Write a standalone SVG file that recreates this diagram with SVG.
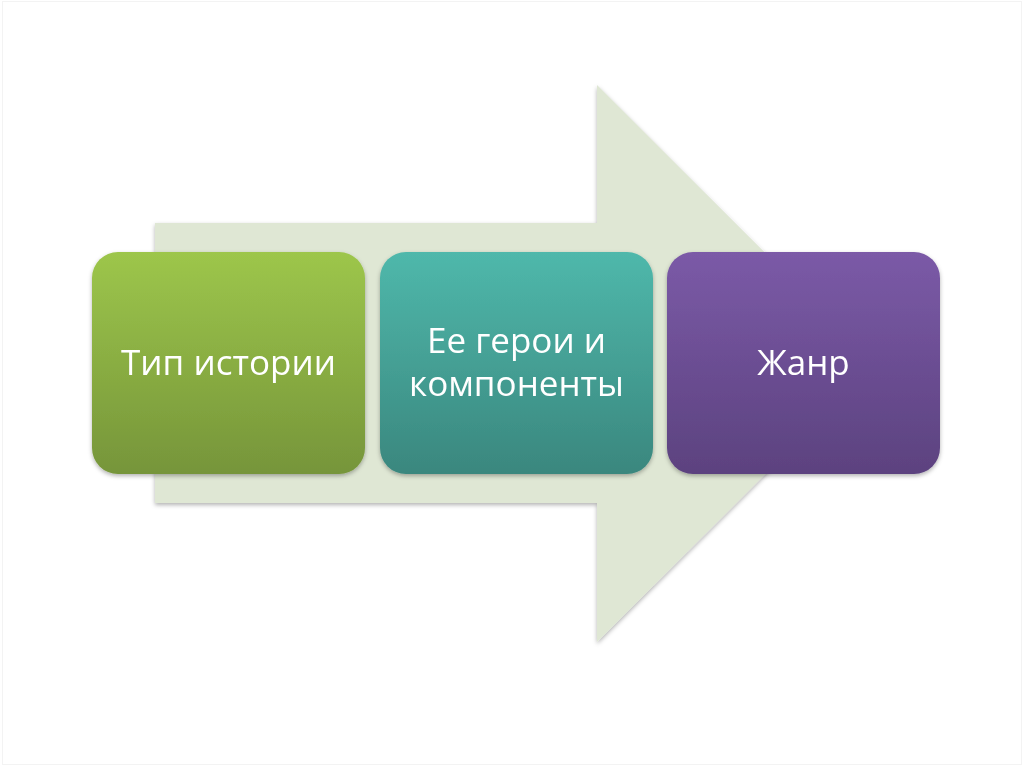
<svg xmlns="http://www.w3.org/2000/svg" width="1024" height="767" viewBox="0 0 1024 767">
<defs>
<linearGradient id="gGreen" x1="0" y1="0" x2="0" y2="1"><stop offset="0" stop-color="#9dc64b"/><stop offset="1" stop-color="#76953a"/></linearGradient>
<linearGradient id="gTeal" x1="0" y1="0" x2="0" y2="1"><stop offset="0" stop-color="#4fb8ab"/><stop offset="1" stop-color="#3a877e"/></linearGradient>
<linearGradient id="gPurple" x1="0" y1="0" x2="0" y2="1"><stop offset="0" stop-color="#7b5aa7"/><stop offset="1" stop-color="#5c427f"/></linearGradient>
<filter id="sh" x="-10%" y="-10%" width="120%" height="125%"><feDropShadow dx="0" dy="2" stdDeviation="2" flood-color="#000" flood-opacity="0.3"/></filter>
</defs>
<style>
.lbl{font-family:"Open Sans","Liberation Sans",sans-serif;font-size:35px;fill:#fff;text-anchor:middle}
</style>
<rect x="0" y="0" width="1024" height="767" fill="#fff"/>
<rect x="2.5" y="1.5" width="1019" height="763" fill="none" stroke="#f3f3f3" stroke-width="1"/>
<g id="arrow">
<path d="M155,223 L597,223 L597,85 L876,363.5 L597,642 L597,503 L155,503 Z" fill="#dfe7d4" filter="url(#sh)"/>
</g>
<g id="node1" filter="url(#sh)">
<rect x="92" y="252" width="273" height="222" rx="26" fill="url(#gGreen)"/>
<text class="lbl" x="228.5" y="375">Тип истории</text>
</g>
<g id="node2" filter="url(#sh)">
<rect x="380" y="252" width="273" height="222" rx="26" fill="url(#gTeal)"/>
<text class="lbl" x="516.5" y="353">Ее герои и</text>
<text class="lbl" x="516.5" y="396">компоненты</text>
</g>
<g id="node3" filter="url(#sh)">
<rect x="667" y="252" width="273" height="222" rx="26" fill="url(#gPurple)"/>
<text class="lbl" x="803.5" y="375">Жанр</text>
</g>
<g id="connectors"></g>
</svg>
